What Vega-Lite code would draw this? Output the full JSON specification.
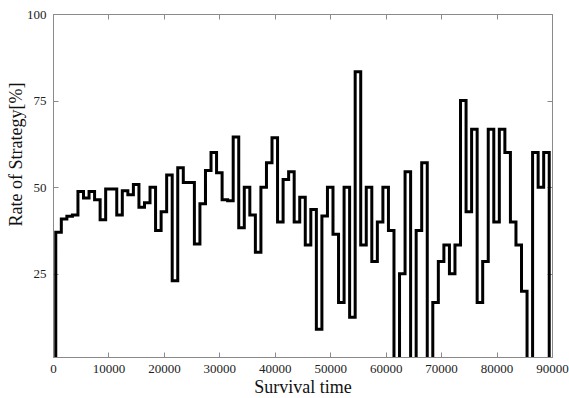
{
  "$schema": "https://vega.github.io/schema/vega-lite/v6.json",
  "width": 499,
  "height": 343,
  "autosize": {"type": "none"},
  "padding": {"left": 53, "top": 14, "right": 17, "bottom": 41},
  "background": "white",
  "config": {
    "view": {"stroke": "#8a8a8a", "strokeWidth": 1},
    "style": {"guide-label": {"font": "Liberation Serif", "fontSize": 13, "fill": "#222222"}, "guide-title": {"font": "Liberation Serif", "fontWeight": "normal", "fill": "#111111"}},
    "axis": {
      "grid": false,
      "domainColor": "#8a8a8a",
      "domainWidth": 1,
      "tickColor": "#8a8a8a",
      "tickSize": -5,
      "tickWidth": 1,
      "labelFont": "Liberation Serif",
      "labelFontSize": 13,
      "labelColor": "#222222",
      "titleFont": "Liberation Serif",
      "titleFontWeight": "normal",
      "titleColor": "#111111"
    }
  },
  "data": {
    "values": [
      {"time": 0, "rate": 0}, {"time": 1000, "rate": 37}, {"time": 2000, "rate": 40.8}, {"time": 3000, "rate": 41.6},
      {"time": 4000, "rate": 42}, {"time": 5000, "rate": 48.8}, {"time": 6000, "rate": 46.9}, {"time": 7000, "rate": 48.8},
      {"time": 8000, "rate": 46.4}, {"time": 9000, "rate": 40.6}, {"time": 10000, "rate": 49.5}, {"time": 11000, "rate": 49.5},
      {"time": 12000, "rate": 42}, {"time": 13000, "rate": 49}, {"time": 14000, "rate": 47.8}, {"time": 15000, "rate": 50.8},
      {"time": 16000, "rate": 44.2}, {"time": 17000, "rate": 45.5}, {"time": 18000, "rate": 50}, {"time": 19000, "rate": 37.5},
      {"time": 20000, "rate": 42.9}, {"time": 21000, "rate": 53.5}, {"time": 22000, "rate": 23}, {"time": 23000, "rate": 55.6},
      {"time": 24000, "rate": 51.4}, {"time": 25000, "rate": 51.4}, {"time": 26000, "rate": 33.6}, {"time": 27000, "rate": 45.2},
      {"time": 28000, "rate": 54.8}, {"time": 29000, "rate": 60}, {"time": 30000, "rate": 54.2}, {"time": 31000, "rate": 46.4},
      {"time": 32000, "rate": 46.1}, {"time": 33000, "rate": 64.5}, {"time": 34000, "rate": 38.3}, {"time": 35000, "rate": 50},
      {"time": 36000, "rate": 42}, {"time": 37000, "rate": 31.2}, {"time": 38000, "rate": 50}, {"time": 39000, "rate": 57.1},
      {"time": 40000, "rate": 64.3}, {"time": 41000, "rate": 40}, {"time": 42000, "rate": 52.2}, {"time": 43000, "rate": 54.5},
      {"time": 44000, "rate": 40}, {"time": 45000, "rate": 47.1}, {"time": 46000, "rate": 33.3}, {"time": 47000, "rate": 43.6},
      {"time": 48000, "rate": 9}, {"time": 49000, "rate": 41.7}, {"time": 50000, "rate": 50}, {"time": 51000, "rate": 36.4},
      {"time": 52000, "rate": 16.7}, {"time": 53000, "rate": 50}, {"time": 54000, "rate": 12.5}, {"time": 55000, "rate": 83.3},
      {"time": 56000, "rate": 33.3}, {"time": 57000, "rate": 50}, {"time": 58000, "rate": 28.6}, {"time": 59000, "rate": 40},
      {"time": 60000, "rate": 50}, {"time": 61000, "rate": 37.5}, {"time": 62000, "rate": 0}, {"time": 63000, "rate": 25},
      {"time": 64000, "rate": 54.5}, {"time": 65000, "rate": 0}, {"time": 66000, "rate": 37.5}, {"time": 67000, "rate": 57.1},
      {"time": 68000, "rate": 0}, {"time": 69000, "rate": 16.7}, {"time": 70000, "rate": 28.6}, {"time": 71000, "rate": 33.3},
      {"time": 72000, "rate": 25}, {"time": 73000, "rate": 33.3}, {"time": 74000, "rate": 75}, {"time": 75000, "rate": 42.9},
      {"time": 76000, "rate": 66.7}, {"time": 77000, "rate": 16.7}, {"time": 78000, "rate": 28.6}, {"time": 79000, "rate": 66.7},
      {"time": 80000, "rate": 40}, {"time": 81000, "rate": 66.7}, {"time": 82000, "rate": 60}, {"time": 83000, "rate": 40},
      {"time": 84000, "rate": 33.3}, {"time": 85000, "rate": 20}, {"time": 86000, "rate": 0}, {"time": 87000, "rate": 60},
      {"time": 88000, "rate": 50}, {"time": 89000, "rate": 60}, {"time": 90000, "rate": 0}
    ]
  },
  "layer": [
    {
      "mark": {"type": "line", "interpolate": "step", "color": "black", "strokeWidth": 3, "strokeJoin": "miter", "clip": true},
      "encoding": {
        "x": {
          "field": "time", "type": "quantitative",
          "scale": {"domain": [0, 90000], "nice": false, "zero": false},
          "axis": {"orient": "bottom", "values": [0, 10000, 20000, 30000, 40000, 50000, 60000, 70000, 80000, 90000], "format": "d", "labelFlush": false, "labelPadding": 10, "labelFont": "Liberation Serif", "labelFontSize": 13, "title": "Survival time", "titleFont": "Liberation Serif", "titleFontSize": 18, "titlePadding": 3}
        },
        "y": {
          "field": "rate", "type": "quantitative",
          "scale": {"domain": [1, 100], "nice": false, "zero": false},
          "axis": {"orient": "left", "values": [25, 50, 75, 100], "labelPadding": 12, "labelFont": "Liberation Serif", "labelFontSize": 13, "title": "Rate of Strategy[%]", "titleFont": "Liberation Serif", "titleFontSize": 18, "titleX": -28, "titleY": 140}
        }
      }
    },
    {
      "mark": {"type": "line", "opacity": 0, "clip": true},
      "encoding": {
        "x": {
          "field": "time", "type": "quantitative",
          "axis": {"orient": "top", "values": [10000, 20000, 30000, 40000, 50000, 60000, 70000, 80000], "labels": false, "title": null}
        },
        "y": {
          "field": "rate", "type": "quantitative",
          "axis": {"orient": "right", "values": [25, 50, 75], "labels": false, "title": null}
        }
      }
    }
  ],
  "resolve": {"axis": {"x": "independent", "y": "independent"}}
}
